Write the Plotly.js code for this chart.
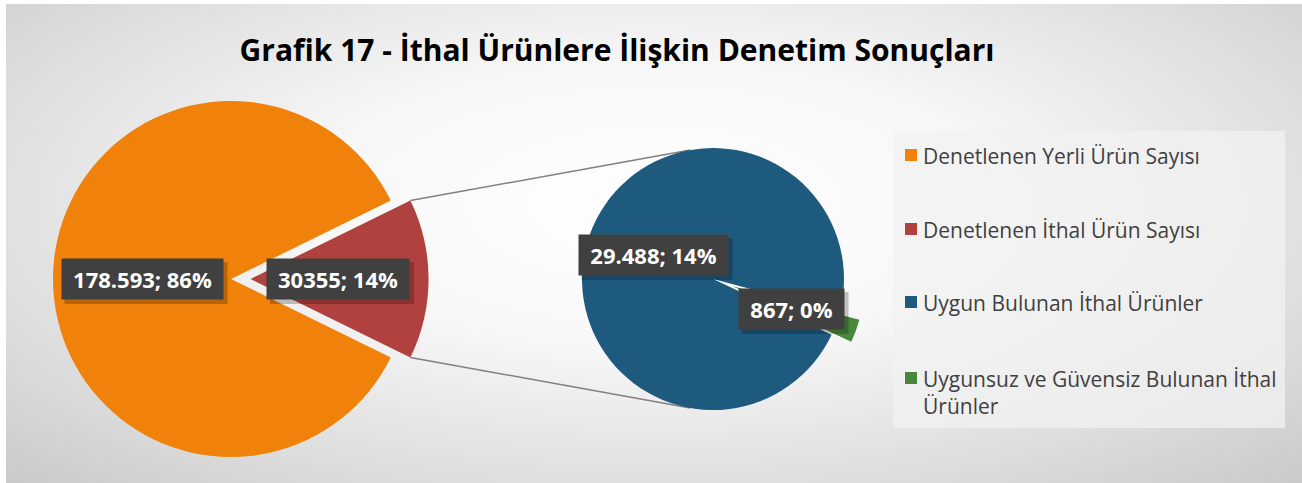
<!DOCTYPE html>
<html>
<head>
<meta charset="utf-8">
<script src="https://cdn.plot.ly/plotly-3.0.1.min.js"></script>
<style>
  html, body { margin: 0; padding: 0; background: #ffffff; }
  #bg { position: absolute; left: 6px; top: 4px; width: 1296px; height: 479px;
        background: radial-gradient(ellipse 75% 85% at 50% 42%, #ffffff 0%, #f7f7f7 35%, #dedede 70%, #c6c6c6 100%); }
  #chart { position: absolute; left: 0; top: 0; width: 1302px; height: 483px; }
</style>
</head>
<body>
<div id="bg"></div>
<div id="chart"></div>
<script>
// ---- data ----
var chartTitle = "Grafik 17 - İthal Ürünlere İlişkin Denetim Sonuçları";
var mainLabels = ["Denetlenen Yerli Ürün Sayısı", "Denetlenen İthal Ürün Sayısı"];
var mainValues = [178593, 30355];
var mainValueText = ["178.593", "30355"];
var mainPctText = ["86%", "14%"];
var subLabels = ["Uygun Bulunan İthal Ürünler", "Uygunsuz ve Güvensiz Bulunan İthal Ürünler"];
var subValues = [29488, 867];
var subValueText = ["29.488", "867"];
var subPctText = ["14%", "0%"];
var mainColors = ["#F0810A", "#B0413E"];
var subColors = ["#1D5A7E", "#48873B"];

// ---- geometry helpers (pixels -> paper) ----
var W = 1302, H = 483;
function px(x) { return x / W; }
function py(y) { return 1 - y / H; }

var pullMain = 0.11, pullSub = 0.16;
var mainC = [231, 279], mainR = 178;
var subC = [713, 279], subR = 131;

function domainFor(c, r, pull) {
  var h = r * (1 + pull);
  return { x: [px(c[0] - h), px(c[0] + h)], y: [py(c[1] + h), py(c[1] - h)] };
}

// rotation so that the last slice is centred at a given clockwise angle from 12 o'clock
function rotationFor(values, centreDeg) {
  var tot = values.reduce(function (a, b) { return a + b; }, 0);
  var before = 0;
  for (var i = 0; i < values.length - 1; i++) before += values[i];
  var startLast = centreDeg - 180 * values[values.length - 1] / tot;
  var rot = startLast - 360 * before / tot;
  while (rot < -360) rot += 360;
  while (rot > 360) rot -= 360;
  return rot;
}

var traces = [
  {
    type: "pie", labels: mainLabels, values: mainValues, sort: false,
    direction: "clockwise", rotation: rotationFor(mainValues, 90),
    pull: [0, pullMain], marker: { colors: mainColors },
    textinfo: "none", hoverinfo: "label+value+percent",
    domain: domainFor(mainC, mainR, pullMain), showlegend: false
  },
  {
    type: "pie", labels: subLabels, values: subValues, sort: false,
    direction: "clockwise", rotation: rotationFor(subValues, 110),
    pull: [0, pullSub], marker: { colors: subColors },
    textinfo: "none", hoverinfo: "label+value+percent",
    domain: domainFor(subC, subR, pullSub), showlegend: false
  }
];

// ---- data labels ----
var labelFamily = "Open Sans";
var labelSize = 22;
var labelPos = [[142, 279], [338, 279], [653, 255], [791, 309]];
var labelPlain = [];
for (var i = 0; i < mainValues.length; i++) labelPlain.push(mainValueText[i] + "; " + mainPctText[i]);
for (var j = 0; j < subValues.length; j++) labelPlain.push(subValueText[j] + "; " + subPctText[j]);

var ctx = document.createElement("canvas").getContext("2d");
ctx.font = "bold " + labelSize + "px '" + labelFamily + "'";

var annotations = [];
var shapes = [];
var boxPad = 5, boxH = 30, hPad = 6;
labelPlain.forEach(function (t, k) {
  var tw = Math.ceil(ctx.measureText(t).width) + 2 * hPad;
  var cx = labelPos[k][0], cy = labelPos[k][1];
  var fullW = tw + 2 * boxPad + 2, fullH = boxH + 2 * boxPad + 2;
  // shadow
  shapes.push({ type: "rect", xref: "paper", yref: "paper",
    x0: px(cx - fullW / 2 + 4), x1: px(cx + fullW / 2 + 4),
    y0: py(cy + fullH / 2 + 4), y1: py(cy - fullH / 2 + 4),
    fillcolor: "rgba(0,0,0,0.22)", line: { width: 0 }, layer: "above" });
  annotations.push({
    x: px(cx), y: py(cy), xref: "paper", yref: "paper",
    text: "<b>" + t + "</b>", showarrow: false, xanchor: "center", yanchor: "middle",
    width: tw, height: boxH, valign: "middle", align: "center",
    font: { family: labelFamily + ", sans-serif", size: labelSize, color: "#ffffff" },
    bgcolor: "#404040", borderpad: boxPad
  });
});

// ---- custom legend ----
var legendLabels = mainLabels.concat(subLabels);
var legendColors = mainColors.concat(subColors);
var legendY = [155, 229, 302, 378];
var legendFontSize = 21;
function wrap(s, maxChars) {
  var words = s.split(" "), lines = [], cur = "";
  words.forEach(function (w) {
    if ((cur + " " + w).trim().length > maxChars && cur) { lines.push(cur); cur = w; }
    else cur = (cur ? cur + " " : "") + w;
  });
  if (cur) lines.push(cur);
  return lines.join("<br>");
}
shapes.push({ type: "rect", xref: "paper", yref: "paper", x0: px(893), x1: px(1285), y0: py(428), y1: py(131),
  fillcolor: "rgba(242,242,242,0.75)", line: { width: 0 }, layer: "below" });
legendLabels.forEach(function (lab, k) {
  var cy = legendY[k];
  shapes.push({ type: "rect", xref: "paper", yref: "paper",
    x0: px(905), x1: px(917), y0: py(cy + 6), y1: py(cy - 6),
    fillcolor: legendColors[k], line: { width: 0 } });
  annotations.push({
    x: px(921), y: py(cy - 15), xref: "paper", yref: "paper",
    text: wrap(lab, 36), showarrow: false, xanchor: "left", yanchor: "top", align: "left",
    font: { family: "Open Sans, sans-serif", size: legendFontSize, color: "#404040" }
  });
});

// ---- connector lines between pies ----
function mainCorner(sign) {
  var tot = mainValues[0] + mainValues[1];
  var half = Math.PI * mainValues[1] / tot;
  var cx = mainC[0] + mainR * pullMain, cy = mainC[1];
  return [cx + mainR * Math.cos(half), cy + sign * mainR * Math.sin(half)];
}
function subEdge(sign) {
  var a = 10 * Math.PI / 180;
  return [subC[0] - subR * Math.sin(a), subC[1] + sign * subR * Math.cos(a)];
}
[-1, 1].forEach(function (s) {
  var p0 = mainCorner(s), p1 = subEdge(s);
  shapes.push({ type: "line", xref: "paper", yref: "paper",
    x0: px(p0[0]), y0: py(p0[1]), x1: px(p1[0]), y1: py(p1[1]),
    line: { color: "#808080", width: 1.5 }, layer: "below" });
});

var layout = {
  width: W, height: H,
  margin: { l: 0, r: 0, t: 0, b: 0 },
  paper_bgcolor: "rgba(0,0,0,0)", plot_bgcolor: "rgba(0,0,0,0)",
  title: { text: "<b>" + chartTitle + "</b>", x: px(617), y: py(50), xref: "paper", yref: "paper",
           xanchor: "center", yanchor: "middle",
           font: { family: "Open Sans, sans-serif", size: 30, color: "#000000" } },
  showlegend: false,
  annotations: annotations,
  shapes: shapes
};

Plotly.newPlot("chart", traces, layout, { displayModeBar: false, staticPlot: true });
</script>
</body>
</html>
